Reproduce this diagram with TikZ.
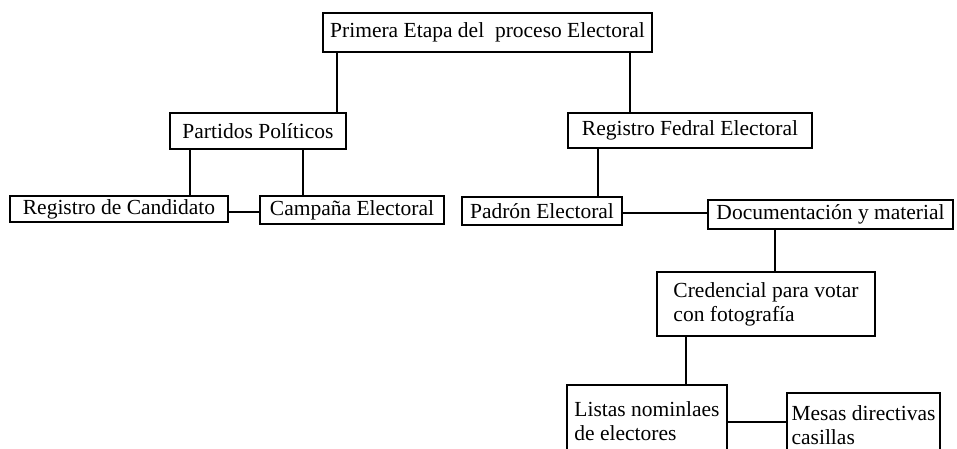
\documentclass[tikz,border=0pt]{standalone}
\usepackage{fontspec}
\setmainfont{Liberation Serif}
\begin{document}
\begin{tikzpicture}[x=1pt,y=-1pt,
  box/.style={draw,line width=1.1pt,inner sep=1pt,font=\fontsize{21.5}{24}\selectfont},
  conn/.style={line width=1.1pt}]
\useasboundingbox (0,0) rectangle (957,449);
\clip (0,0) rectangle (957,449);
\node[box,minimum width=329pt,minimum height=39pt] (top) at (487.5,32.5) {Primera Etapa del\ \ proceso Electoral};
\node[box,minimum width=176pt,minimum height=36pt] (part) at (258,131) {Partidos Políticos};
\node[box,minimum width=218pt,minimum height=26pt] (regc) at (119,209) {Registro de Candidato};
\node[box,minimum width=184pt,minimum height=28pt] (camp) at (352,210) {Campaña Electoral};
\node[box,minimum width=244pt,minimum height=35pt] (regf) at (690,130.5) {Registro Fedral Electoral};
\node[box,minimum width=160pt,minimum height=28pt] (padr) at (542,211) {Padrón Electoral};
\node[box,minimum width=245pt,minimum height=29pt] (docu) at (830.5,214.5) {Documentación y material};
\node[box,minimum width=218pt,minimum height=64pt,align=left] (cred) at (766,304) {Credencial para votar\\con fotografía};
\node[box,minimum width=160pt,minimum height=72pt,align=left] (list) at (647,421) {Listas nominlaes\\de electores};
\node[box,minimum width=153pt,minimum height=64pt,align=left] (mesa) at (863.5,425) {Mesas directivas\\casillas};
\coordinate (c1) at (337,0);
\coordinate (c2) at (630,0);
\coordinate (c3) at (190,0);
\coordinate (c4) at (303,0);
\coordinate (c5) at (598,0);
\coordinate (c6) at (775,0);
\coordinate (c7) at (686,0);
\coordinate (h1) at (0,212);
\coordinate (h2) at (0,213);
\coordinate (h3) at (0,422);
\draw[conn] (top.south -| c1) -- (part.north -| c1);
\draw[conn] (top.south -| c2) -- (regf.north -| c2);
\draw[conn] (part.south -| c3) -- (regc.north -| c3);
\draw[conn] (part.south -| c4) -- (camp.north -| c4);
\draw[conn] (regc.east |- h1) -- (camp.west |- h1);
\draw[conn] (regf.south -| c5) -- (padr.north -| c5);
\draw[conn] (padr.east |- h2) -- (docu.west |- h2);
\draw[conn] (docu.south -| c6) -- (cred.north -| c6);
\draw[conn] (cred.south -| c7) -- (list.north -| c7);
\draw[conn] (list.east |- h3) -- (mesa.west |- h3);
\end{tikzpicture}
\end{document}
